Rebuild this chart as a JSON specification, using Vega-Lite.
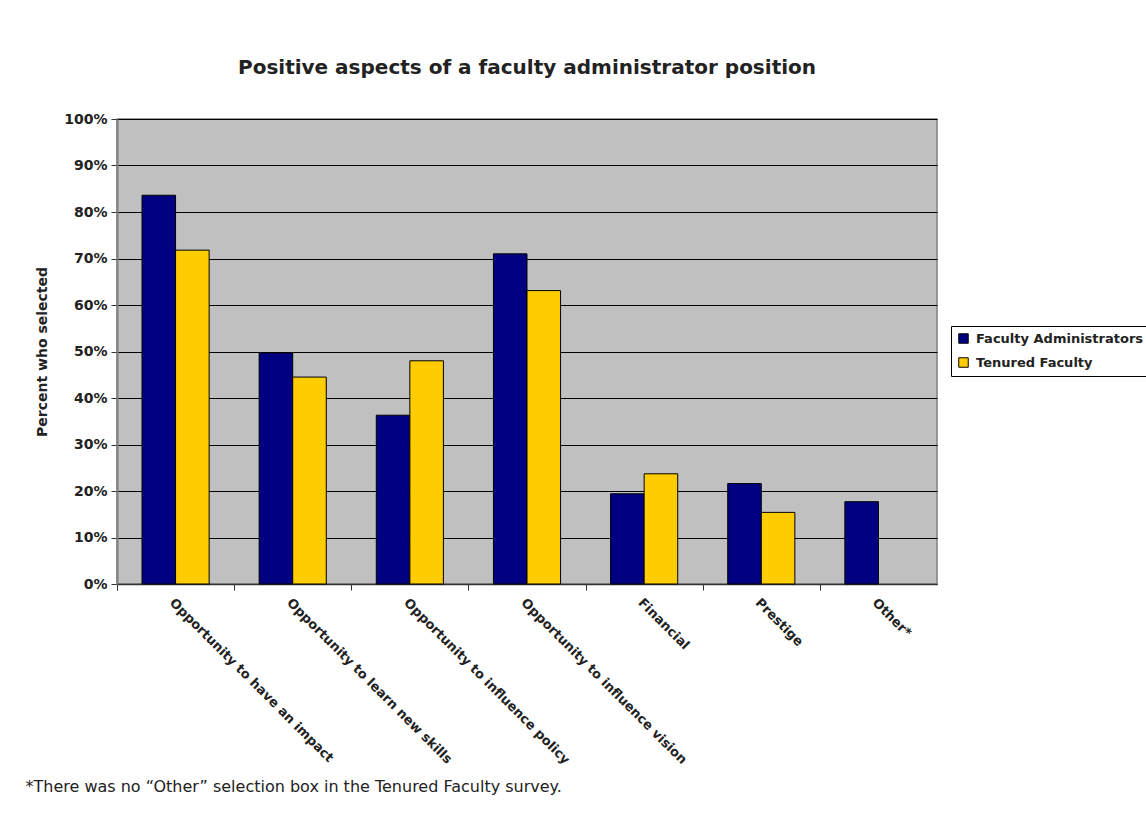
{
  "$schema": "https://vega.github.io/schema/vega-lite/v6.json",
  "width": 820,
  "height": 465,
  "autosize": {"type": "none"},
  "padding": {"left": 117, "top": 119, "right": 209, "bottom": 250},
  "background": "white",
  "title": {
    "text": "Positive aspects of a faculty administrator position",
    "font": "DejaVu Sans",
    "fontSize": 20,
    "fontWeight": "bold",
    "color": "#222222",
    "anchor": "middle",
    "offset": 34
  },
  "data": {
    "values": [
      {"aspect": "Opportunity to have an impact", "group": "Faculty Administrators", "percent": 83.6},
      {"aspect": "Opportunity to have an impact", "group": "Tenured Faculty", "percent": 71.8},
      {"aspect": "Opportunity to learn new skills", "group": "Faculty Administrators", "percent": 49.7},
      {"aspect": "Opportunity to learn new skills", "group": "Tenured Faculty", "percent": 44.5},
      {"aspect": "Opportunity to influence policy", "group": "Faculty Administrators", "percent": 36.3},
      {"aspect": "Opportunity to influence policy", "group": "Tenured Faculty", "percent": 48.0},
      {"aspect": "Opportunity to influence vision", "group": "Faculty Administrators", "percent": 71.0},
      {"aspect": "Opportunity to influence vision", "group": "Tenured Faculty", "percent": 63.1},
      {"aspect": "Financial", "group": "Faculty Administrators", "percent": 19.4},
      {"aspect": "Financial", "group": "Tenured Faculty", "percent": 23.7},
      {"aspect": "Prestige", "group": "Faculty Administrators", "percent": 21.6},
      {"aspect": "Prestige", "group": "Tenured Faculty", "percent": 15.4},
      {"aspect": "Other*", "group": "Faculty Administrators", "percent": 17.7}
    ]
  },
  "mark": {"type": "bar", "stroke": "#000000", "strokeWidth": 1},
  "encoding": {
    "x": {
      "field": "aspect",
      "type": "nominal",
      "sort": null,
      "scale": {"paddingInner": 0.427, "paddingOuter": 0.2135},
      "axis": {
        "title": "*There was no \u201cOther\u201d selection box in the Tenured Faculty survey.",
        "titleFont": "DejaVu Sans",
        "titleFontSize": 16,
        "titleFontWeight": "normal",
        "titleColor": "#222222",
        "titleAnchor": "start",
        "titleAlign": "left",
        "titleBaseline": "alphabetic",
        "titleX": -92,
        "titleY": 207,
        "bandPosition": 0,
        "tickExtra": true,
        "tickOffset": -25,
        "labelOffset": 25,
        "tickSize": 6,
        "tickColor": "#333333",
        "domainColor": "#333333",
        "domainWidth": 1.5,
        "labelAngle": 45,
        "labelAlign": "left",
        "labelBaseline": "top",
        "labelPadding": 6,
        "labelFont": "DejaVu Sans",
        "labelFontSize": 13,
        "labelFontWeight": "bold",
        "labelColor": "#222222",
        "labelLimit": 400,
        "grid": false
      }
    },
    "xOffset": {"field": "group", "sort": ["Faculty Administrators", "Tenured Faculty"]},
    "y": {
      "field": "percent",
      "type": "quantitative",
      "scale": {"domain": [0, 100], "nice": false},
      "axis": {
        "title": "Percent who selected",
        "titleFont": "DejaVu Sans",
        "titleFontSize": 14,
        "titleFontWeight": "bold",
        "titleColor": "#222222",
        "titlePadding": 14,
        "values": [0, 10, 20, 30, 40, 50, 60, 70, 80, 90, 100],
        "labelExpr": "datum.value + '%'",
        "labelFont": "DejaVu Sans",
        "labelFontSize": 14,
        "labelFontWeight": "bold",
        "labelColor": "#222222",
        "labelPadding": 4,
        "tickSize": 6,
        "tickColor": "#333333",
        "domainColor": "#808080",
        "domainWidth": 2,
        "grid": true,
        "gridColor": "#000000",
        "gridWidth": 1
      }
    },
    "color": {
      "field": "group",
      "type": "nominal",
      "scale": {"domain": ["Faculty Administrators", "Tenured Faculty"], "range": ["#000080", "#FFCC00"]},
      "legend": {
        "title": null,
        "orient": "none",
        "legendX": 834,
        "legendY": 207,
        "strokeColor": "#000000",
        "fillColor": "#ffffff",
        "padding": 6,
        "symbolType": "square",
        "symbolSize": 90,
        "symbolStrokeColor": "#000000",
        "symbolStrokeWidth": 1,
        "labelFont": "DejaVu Sans",
        "labelFontSize": 13,
        "labelFontWeight": "bold",
        "labelColor": "#222222",
        "labelOffset": 6,
        "rowPadding": 9,
        "labelLimit": 300
      }
    }
  },
  "config": {
    "view": {"fill": "#C0C0C0", "stroke": "#808080", "strokeWidth": 1.5}
  }
}
